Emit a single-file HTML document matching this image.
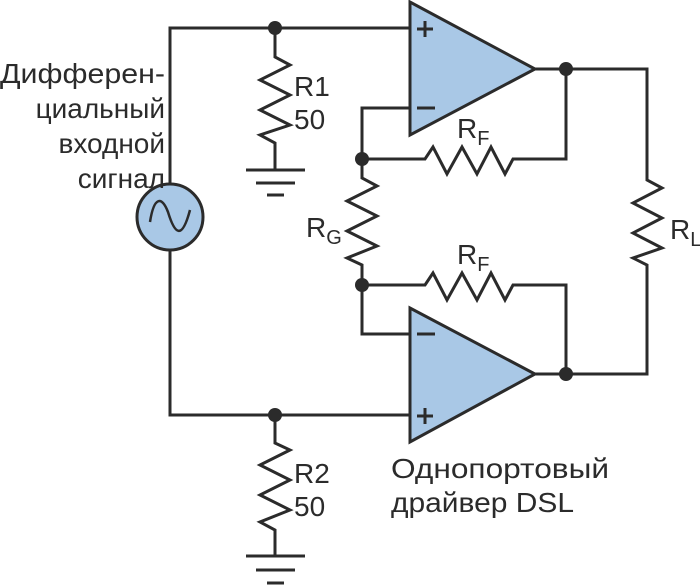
<!DOCTYPE html>
<html><head><meta charset="utf-8"><style>
html,body{margin:0;padding:0;background:#fff;width:700px;height:585px;overflow:hidden}
text{font-family:"Liberation Sans",sans-serif;fill:#2b2b2b}
</style></head><body>
<svg width="700" height="585" viewBox="0 0 700 585" xmlns="http://www.w3.org/2000/svg">
<g stroke="#2b2b2b" stroke-width="3" fill="none" stroke-linejoin="miter">
<polyline points="410,28 170,28 170,184"/>
<polyline points="170,250 170,415 410,415"/>
<polyline points="275,28 275,57 290,65 260,80 290,95 260,110 290,125 260,135 275,143 275,170"/>
<line x1="246" y1="170" x2="305" y2="170"/>
<line x1="256" y1="183" x2="295" y2="183"/>
<line x1="267" y1="195" x2="284" y2="195"/>
<polyline points="275,415 275,443 290,450 260,465 290,480 260,495 290,510 260,522 275,530 275,556"/>
<line x1="246" y1="556" x2="305" y2="556"/>
<line x1="256" y1="570" x2="295" y2="570"/>
<line x1="267" y1="583" x2="284" y2="583"/>
<polyline points="410,108 362,108 362,178 377,186 347,201 377,216 347,231 377,246 347,258 362,265 362,334 410,334"/>
<polyline points="362,159 425,159 433,147 447,174 462,147 477,174 491,147 505,174 513,159 566,159 566,69"/>
<polyline points="362,285 425,285 433,273 447,300 462,273 477,300 491,273 505,300 513,285 566,285 566,374"/>
<polyline points="535,69 647,69 647,180 662,188 633,203 662,218 633,233 662,248 633,258 647,265 647,374 535,374"/>
</g>
<polygon points="410,2 410,135 535,69" fill="#a9c8e6" stroke="#2b2b2b" stroke-width="3"/>
<polygon points="410,308 410,442 535,374" fill="#a9c8e6" stroke="#2b2b2b" stroke-width="3"/>
<g stroke="#2b2b2b" stroke-width="3">
<line x1="417" y1="29" x2="433" y2="29"/><line x1="425" y1="21" x2="425" y2="37"/>
<line x1="417" y1="108" x2="435" y2="108"/>
<line x1="417" y1="334" x2="435" y2="334"/>
<line x1="417" y1="416" x2="433" y2="416"/><line x1="425" y1="408" x2="425" y2="424"/>
</g>
<circle cx="170" cy="217" r="33" fill="#a9c8e6" stroke="#2b2b2b" stroke-width="3"/>
<path d="M150,222 C154,196 162,196 168,212 C175,235 182,240 190,210" fill="none" stroke="#2b2b2b" stroke-width="2.5"/>
<g fill="#2b2b2b">
<circle cx="275" cy="28" r="7"/><circle cx="275" cy="415" r="7"/>
<circle cx="362" cy="159" r="7"/><circle cx="362" cy="285" r="7"/>
<circle cx="566" cy="69" r="7"/><circle cx="566" cy="374" r="7"/>
</g>
<g font-size="28">
<text x="165" y="83" text-anchor="end" textLength="165" lengthAdjust="spacingAndGlyphs">Дифферен-</text>
<text x="165" y="118" text-anchor="end">циальный</text>
<text x="165" y="153" text-anchor="end">входной</text>
<text x="165" y="188" text-anchor="end">сигнал</text>
<text x="294" y="96">R1</text>
<text x="294" y="129">50</text>
<text x="294" y="483">R2</text>
<text x="294" y="516">50</text>
<text x="306" y="237">R<tspan font-size="20" dy="7">G</tspan></text>
<text x="457" y="138">R<tspan font-size="20" dy="7">F</tspan></text>
<text x="457" y="264">R<tspan font-size="20" dy="7">F</tspan></text>
<text x="670" y="239">R<tspan font-size="20" dy="7">L</tspan></text>
<text x="391" y="478" textLength="218" lengthAdjust="spacingAndGlyphs">Однопортовый</text>
<text x="391" y="512" textLength="183" lengthAdjust="spacingAndGlyphs">драйвер DSL</text>
</g>
</svg>
</body></html>
